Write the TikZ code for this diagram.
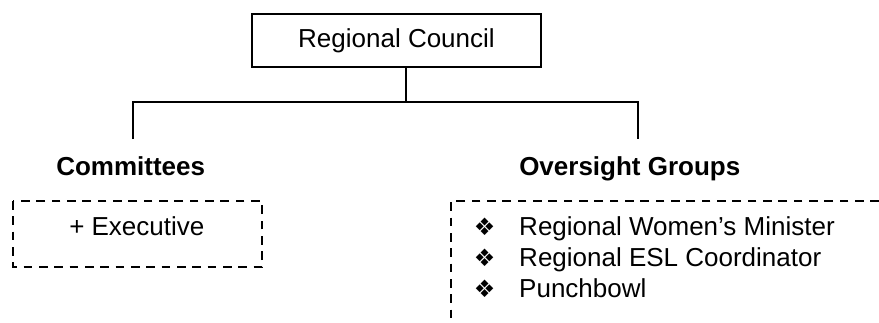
\documentclass[tikz,border=0pt]{standalone}
\usepackage{fontspec}
\setmainfont{Liberation Sans}
\newfontfamily\symfont{DejaVu Sans}
\usetikzlibrary{positioning}

\newcommand{\orgbullet}{\makebox[34.1pt][l]{{\symfont\fontsize{18}{18}\selectfont ❖}}}

\tikzset{
  solidline/.style={line width=1.6pt},
  dashline/.style={line width=1.7pt, dash pattern=on 6.5pt off 5pt},
  bodytext/.style={inner sep=0pt, font=\fontsize{19.5}{23.25}\selectfont},
  headtext/.style={inner sep=0pt, font=\fontsize{19.5}{23.25}\selectfont\bfseries}
}

\begin{document}
\begin{tikzpicture}[x=0.75pt,y=0.75pt,yscale=-1,xscale=1]
\useasboundingbox (0,0) rectangle (879,322);

%Shape: Rectangle [top box]
\node (council) [draw, solidline, bodytext, minimum width=216.75pt, minimum height=39.75pt] at (396.5,40.5) {Regional Council};

% Connector coordinates
\coordinate (fork) at (406,102);
\coordinate (leftdrop) at (133,139);
\coordinate (rightdrop) at (638,139);

%Straight Lines [stem and branches]
\draw [solidline] (council.south -| fork) -- (fork);
\draw [solidline] (leftdrop) |- (fork) -| (rightdrop);

% Text Node
\node (committees) [headtext, anchor=base west] at (56,175) {Committees};
% Text Node
\node (oversight) [headtext, anchor=base west] at (519,175) {Oversight Groups};

%Shape: Rectangle [dashed, left]
\draw [dashline] (13,201) rectangle (262,267);
% Text Node
\node (executive) [bodytext, anchor=base west] at (69,235) {+ Executive};

%Shape: Rectangle [dashed, right, cut by the page edge]
\draw [dashline] (879,201) -| (451,322);
% Text Node
\node (minister) [bodytext, anchor=base west] at (473.5,235.5) {\orgbullet Regional Women’s Minister};
% Text Node
\node (esl) [bodytext, anchor=base west] at (473.5,266.5) {\orgbullet Regional ESL Coordinator};
% Text Node
\node (punchbowl) [bodytext, anchor=base west] at (473.5,297) {\orgbullet Punchbowl};

\end{tikzpicture}
\end{document}
